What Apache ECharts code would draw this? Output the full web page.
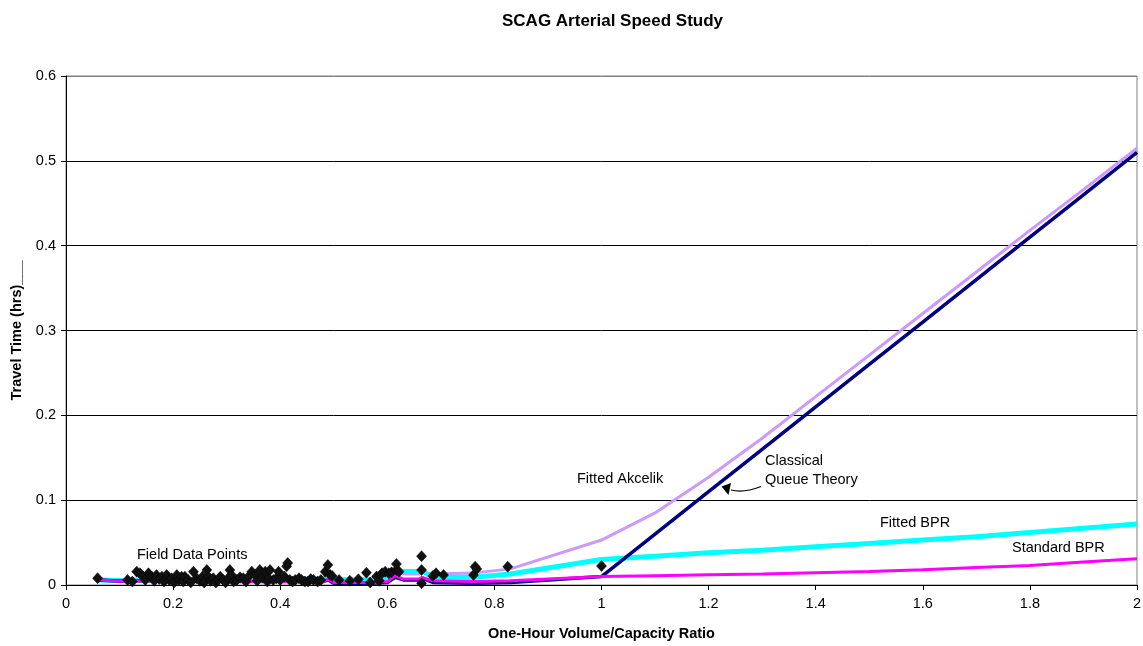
<!DOCTYPE html>
<html>
<head>
<meta charset="utf-8">
<script src="https://cdn.jsdelivr.net/npm/echarts@6/dist/echarts.min.js"></script>
<style>
html,body{margin:0;padding:0;background:#fff;}
#chart{width:1143px;height:646px;}
</style>
</head>
<body>
<div id="chart"></div>
<script>
// Field data points (v/c ratio, travel time hrs)
var fieldX = [0.059,0.115,0.124,0.132,0.138,0.144,0.148,0.154,0.16,0.165,0.169,0.174,0.179,0.183,0.188,0.193,0.197,0.202,0.207,0.211,0.216,0.219,0.222,0.228,0.233,0.238,0.244,0.25,0.255,0.258,0.263,0.266,0.27,0.275,0.28,0.284,0.288,0.294,0.298,0.303,0.306,0.309,0.313,0.319,0.325,0.331,0.336,0.341,0.347,0.353,0.357,0.362,0.367,0.372,0.376,0.378,0.381,0.387,0.393,0.397,0.4,0.408,0.412,0.414,0.418,0.423,0.428,0.435,0.44,0.446,0.452,0.457,0.462,0.47,0.476,0.484,0.489,0.493,0.497,0.51,0.53,0.546,0.561,0.568,0.58,0.585,0.59,0.596,0.603,0.608,0.617,0.617,0.622,0.664,0.664,0.664,0.685,0.691,0.705,0.761,0.764,0.767,0.825,1.0];
var fieldY = [0.008,0.006,0.004,0.0157,0.0138,0.0098,0.006,0.0138,0.0098,0.005,0.0118,0.007,0.0098,0.004,0.0118,0.006,0.008,0.003,0.0118,0.006,0.0098,0.004,0.0098,0.006,0.003,0.0157,0.0079,0.005,0.01,0.003,0.0177,0.0098,0.005,0.008,0.003,0.006,0.0098,0.006,0.003,0.008,0.0177,0.0118,0.004,0.006,0.009,0.008,0.004,0.01,0.0157,0.0118,0.005,0.0177,0.009,0.0157,0.004,0.008,0.0177,0.006,0.008,0.0157,0.006,0.01,0.022,0.026,0.006,0.004,0.006,0.008,0.006,0.004,0.004,0.007,0.006,0.004,0.006,0.0157,0.0236,0.012,0.0106,0.006,0.005,0.0067,0.0145,0.003,0.01,0.005,0.0138,0.0157,0.0138,0.015,0.0248,0.0177,0.0157,0.034,0.0177,0.002,0.0106,0.0138,0.0118,0.0118,0.0216,0.0189,0.0216,0.0224];

// Model curves sampled at these v/c ratios
var curveX = [0.06,0.115,0.13,0.2,0.3,0.4,0.48,0.49,0.5,0.57,0.6,0.615,0.63,0.66,0.665,0.685,0.76,0.83,1.0,1.1,1.2,1.3,1.4,1.5,1.6,1.7,1.8,1.9,2.0];
var akcelik   = [0.007,0.005,0.006,0.007,0.007,0.008,0.008,0.011,0.007,0.007,0.009,0.016,0.013,0.013,0.015,0.013,0.014,0.019,0.053,0.085,0.127,0.173,0.222,0.271,0.320,0.369,0.418,0.466,0.515];
var fittedBPR = [0.006,0.005,0.006,0.006,0.006,0.007,0.007,0.011,0.006,0.006,0.009,0.018,0.016,0.016,0.017,0.009,0.009,0.013,0.030,0.034,0.038,0.041,0.045,0.049,0.053,0.057,0.062,0.067,0.072];
var queue     = [0.006,0.004,0.005,0.005,0.004,0.004,0.004,0.006,0.002,0.002,0.003,0.009,0.006,0.006,0.008,0.003,0.002,0.003,0.010,0.060,0.110,0.160,0.210,0.260,0.310,0.360,0.410,0.460,0.510];
var standardBPR = [0.006,0.004,0.005,0.005,0.004,0.004,0.004,0.007,0.003,0.003,0.004,0.011,0.007,0.007,0.009,0.005,0.004,0.005,0.010,0.011,0.012,0.013,0.0145,0.016,0.018,0.0205,0.023,0.027,0.031];

var xTicks = {min:0, max:2, interval:0.2};
var yTicks = {min:0, max:0.6, interval:0.1};

function pairs(xs, ys){ return xs.map(function(x,i){ return [x, ys[i]]; }); }

var FONT = '"Liberation Sans", Arial, sans-serif';
var chart = echarts.init(document.getElementById('chart'), null, {renderer:'canvas'});
var option = {
  animation:false,
  backgroundColor:'#fff',
  title:{
    text:'SCAG Arterial Speed Study',
    left:497, top:8,
    textStyle:{fontFamily:FONT, fontSize:17, fontWeight:'bold', color:'#000'}
  },
  grid:{left:66, right:6, top:76, bottom:61, show:true, borderColor:'#808080', borderWidth:1, backgroundColor:'transparent', containLabel:false, outerBoundsMode:'none'},
  xAxis:{
    type:'value', min:xTicks.min, max:xTicks.max, interval:xTicks.interval,
    name:'One-Hour Volume/Capacity Ratio', nameLocation:'middle', nameGap:41,
    nameTextStyle:{fontFamily:FONT, fontSize:14.5, fontWeight:'bold', color:'#000'},
    axisLine:{show:true, lineStyle:{color:'#000', width:1}},
    axisTick:{show:true, length:5, lineStyle:{color:'#000'}},
    axisLabel:{fontFamily:FONT, fontSize:14.5, color:'#000', margin:11},
    splitLine:{show:false}
  },
  yAxis:{
    type:'value', min:yTicks.min, max:yTicks.max, interval:yTicks.interval,
    name:'Travel Time (hrs)___', nameLocation:'middle', nameGap:41, nameRotate:90,
    nameTextStyle:{fontFamily:FONT, fontSize:14.5, fontWeight:'bold', color:'#000'},
    axisLine:{show:true, lineStyle:{color:'#000', width:1}},
    axisTick:{show:true, length:5, lineStyle:{color:'#000'}},
    axisLabel:{fontFamily:FONT, fontSize:14.5, color:'#000', margin:10},
    splitLine:{show:true, lineStyle:{color:['#000','#000','#000','#000','#000','#000','#808080'], width:1}}
  },
  series:[
    {name:'Fitted Akcelik', type:'line', data:pairs(curveX, akcelik), showSymbol:false, z:2,
     lineStyle:{color:'#CC99FF', width:3}},
    {name:'Fitted BPR', type:'line', data:pairs(curveX, fittedBPR), showSymbol:false, z:3,
     lineStyle:{color:'#00FFFF', width:5}},
    {name:'Classical Queue Theory', type:'line', data:pairs(curveX, queue), showSymbol:false, z:4,
     lineStyle:{color:'#000080', width:3.5}},
    {name:'Standard BPR', type:'line', data:pairs(curveX, standardBPR), showSymbol:false, z:5,
     lineStyle:{color:'#FF00FF', width:3}},
    {name:'Field Data Points', type:'scatter', data:pairs(fieldX, fieldY), symbol:'diamond', symbolSize:[10,11], z:6,
     itemStyle:{color:'#111', opacity:1, borderColor:'#000', borderWidth:0.5}}
  ],
  graphic:[
    {type:'text', left:137, top:547, style:{text:'Field Data Points', font:'14.5px '+FONT, fill:'#000'}},
    {type:'text', left:577, top:471, style:{text:'Fitted Akcelik', font:'14.5px '+FONT, fill:'#000'}},
    {type:'text', left:765, top:453, style:{text:'Classical', font:'14.5px '+FONT, fill:'#000'}},
    {type:'text', left:765, top:472, style:{text:'Queue Theory', font:'14.5px '+FONT, fill:'#000'}},
    {type:'text', left:880, top:515, style:{text:'Fitted BPR', font:'14.5px '+FONT, fill:'#000'}},
    {type:'text', left:1012, top:540, style:{text:'Standard BPR', font:'14.5px '+FONT, fill:'#000'}},
    {type:'bezierCurve', shape:{x1:761, y1:486.5, cpx1:752, cpy1:490, cpx2:742, cpy2:493, x2:731, y2:490},
     style:{stroke:'#000', lineWidth:1.2, fill:null}, z:10},
    {type:'polygon', shape:{points:[[721.5,486.5],[731,483],[728.5,495]]}, style:{fill:'#000'}, z:10}
  ]
};
chart.setOption(option);
</script>
</body>
</html>
